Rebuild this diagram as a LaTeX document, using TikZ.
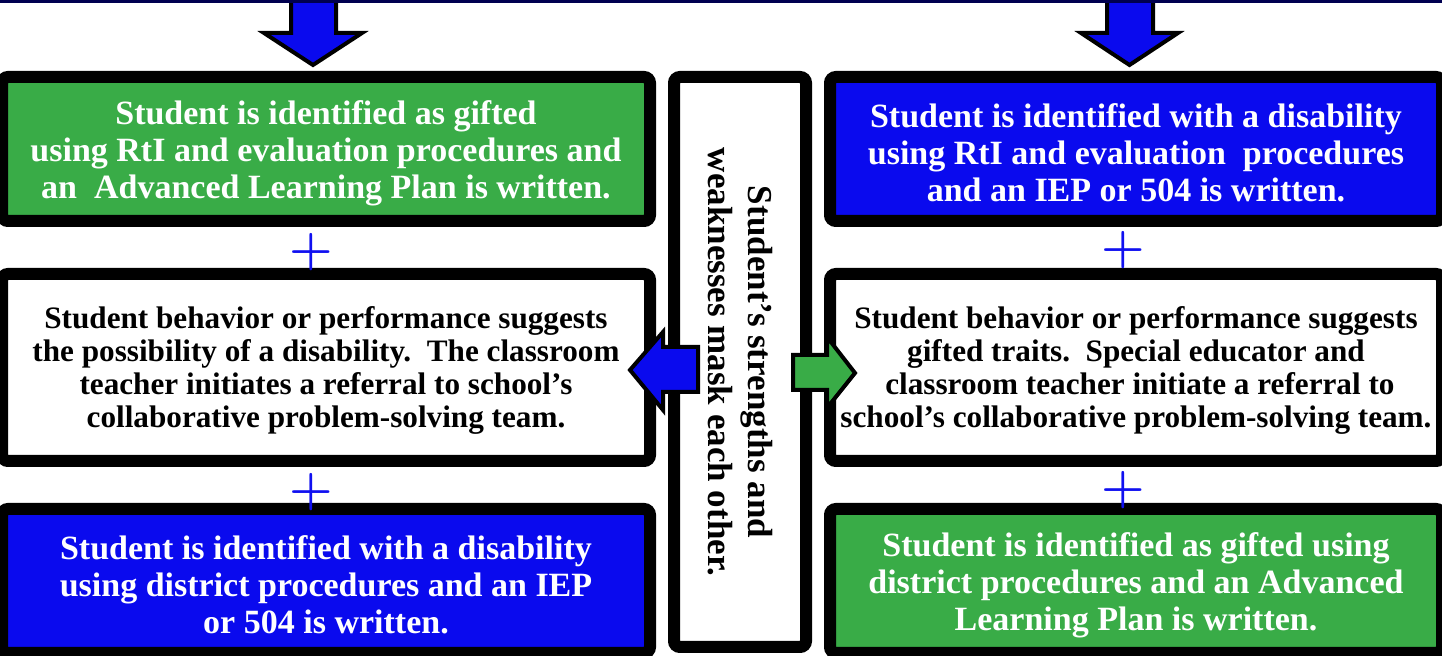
\documentclass[tikz,border=0pt]{standalone}
\usepackage{fontspec}
\setmainfont{Liberation Serif}
\definecolor{giftgreen}{HTML}{39AC47}
\definecolor{disblue}{HTML}{0A0AEE}
\definecolor{topnavy}{HTML}{000050}
\definecolor{plusblue}{HTML}{1010F0}
\newcommand{\colrow}{\rule{0pt}{16pt}} % taller first row
\newcommand{\whiterow}{\rule{0pt}{14pt}}
\tikzset{
 box/.style={draw=black, line width=6pt, rounded corners=3pt, align=center, inner sep=0pt, font=\bfseries},
 colbox/.style={box, text=white, minimum height=72pt, font=\bfseries\fontsize{17}{18.5}\selectfont},
 whitebox/.style={box, fill=white, text=black, minimum height=93.5pt, font=\bfseries\fontsize{15.6}{16.5}\selectfont},
 leftcol/.style={minimum width=324pt},
 rightcol/.style={minimum width=306pt},
 plus/.style={text=plusblue, inner sep=0pt, font=\boldmath\fontsize{25}{25}\selectfont},
 blockarrow/.style={draw=black, line width=2pt, line join=miter}
}

\begin{document}
\begin{tikzpicture}[x=0.5pt, y=-0.5pt]
 \useasboundingbox (0,0) rectangle (1442,656); %frame

 % left column
 \node[colbox, leftcol, fill=giftgreen] (giftL) at (326,149) {\colrow Student is identified as gifted\\ using RtI and evaluation procedures and\\ an\ \ Advanced Learning Plan is written.};
 \node[whitebox, leftcol] (referL) at (326,367.5) {\whiterow Student behavior or performance suggests\\ the possibility of a disability.\ \ The classroom\\ teacher initiates a referral to school’s\\ collaborative problem-solving team.};
 \node[colbox, leftcol, fill=disblue] (disL) at (326,581) {\colrow Student is identified with a disability\\ using district procedures and an IEP\\ or 504 is written.};

 % right column
 \node[colbox, rightcol, fill=disblue] (disR) at (1136,149) {\colrow Student is identified with a disability\\ using RtI and evaluation\ \ procedures\\ and an IEP or 504 is written.};
 \node[whitebox, rightcol] (referR) at (1136,367.5) {\whiterow Student behavior or performance suggests\\ gifted traits.\ \ Special educator and\\ \ classroom teacher initiate a referral to\\ school’s collaborative problem-solving team.};
 \node[colbox, rightcol, fill=giftgreen] (giftR) at (1136,581) {\colrow Student is identified as gifted using\\ district procedures and an Advanced\\ Learning Plan is written.};

 % middle bar
 \node[box, fill=white, rotate=-90, minimum width=285pt, minimum height=66pt, font=\bfseries\fontsize{17.5}{20}\selectfont] (mask) at (740,362) {Student’s strengths and\\ weaknesses mask each other.};

 % plus signs
 \node[plus] (plusL1) at (311,252) {$+$};
 \node[plus] (plusL2) at (311,492) {$+$};
 \node[plus] (plusR1) at (1123,250) {$+$};
 \node[plus] (plusR2) at (1123,490) {$+$};

 % top arrows
 \coordinate (tipL) at (313,65); %left tip
 \coordinate (tipR) at (1129.5,65); %right tip
 \draw[blockarrow, fill=disblue] (tipL) -- ++(-49,-32) -- ++(27,0) -- ++(0,-36) -- ++(45,0) -- ++(0,36) -- ++(26,0) -- cycle;
 \draw[blockarrow, fill=disblue] (tipR) -- ++(-48.5,-32) -- ++(26,0) -- ++(0,-36) -- ++(46,0) -- ++(0,36) -- ++(25,0) -- cycle;
 \draw[topnavy, line width=1.5pt] (0,1.5) -- (1442,1.5); %top rule

 % side arrows
 \coordinate (tipW) at (630,370); %points to left box
 \coordinate (tipE) at (855,373); %points to right box
 \draw[blockarrow, fill=disblue] (tipW) -- ++(33,-38) -- ++(0,15) -- ++(35,0) -- ++(0,45) -- ++(-35,0) -- ++(0,18) -- cycle;
 \draw[blockarrow, fill=giftgreen] (tipE) -- ++(-28,-36) -- ++(0,18) -- ++(-34,0) -- ++(0,35) -- ++(34,0) -- ++(0,18) -- cycle;
\end{tikzpicture}
\end{document}
